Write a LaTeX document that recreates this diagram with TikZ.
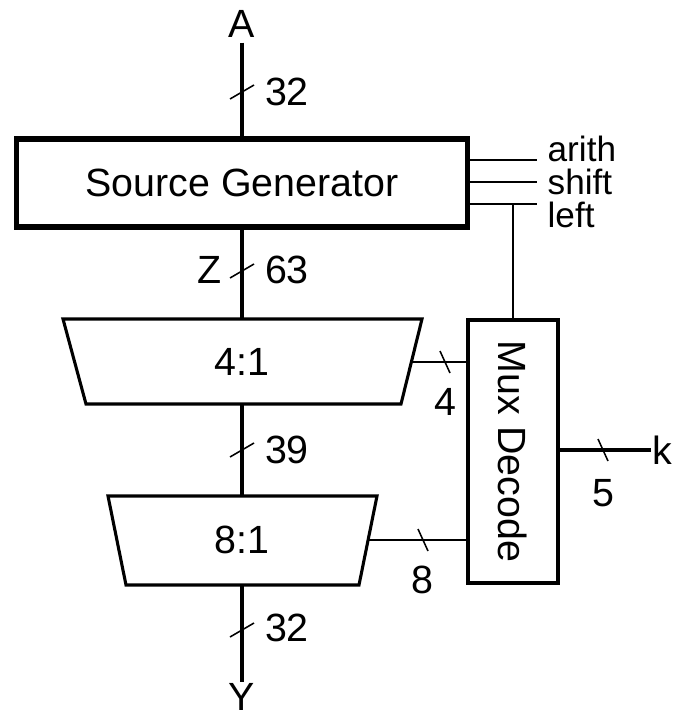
\documentclass[tikz,border=0pt]{standalone}
\usepackage{fontspec}
\setmainfont{Liberation Sans}
\usetikzlibrary{positioning}
\tikzset{
  bus/.style={line width=3.4pt},
  ctrl/.style={line width=1.3pt},
  tickmark/.style={line width=1.1pt},
  genbox/.style={draw, line width=3.6pt, minimum width=11.25cm, minimum height=2.2cm},
  decbox/.style={draw, line width=3pt, minimum width=2.25cm, minimum height=6.575cm},
  muxline/.style={line width=2.2pt, line join=miter},
  sig/.style={inner sep=1pt, font=\fontsize{25}{28}\selectfont}
}
\newcommand{\bustick}[1]{\draw[tickmark] (#1) +(-12,7) -- +(12,-7);}
\newcommand{\seltick}[1]{\draw[tickmark] (#1) +(-5,-11) -- +(5,11);}

\begin{document}
\begin{tikzpicture}[x=0.025cm, y=-0.025cm, every node/.style={font=\fontsize{28}{32}\selectfont}]
  \useasboundingbox (0,0) rectangle (677,716);
  % blocks
  \node[genbox] (src) at (242,183) {Source Generator};
  \node[decbox] (dec) at (513,451.5) {};
  \node[rotate=-90] (declbl) at (dec.center) {Mux Decode};
  % the two muxes
  \coordinate (m4tl) at (63,319);  \coordinate (m4tr) at (422,319);
  \coordinate (m4br) at (401,404); \coordinate (m4bl) at (86,404);
  \coordinate (m8tl) at (108,496); \coordinate (m8tr) at (377,496);
  \coordinate (m8br) at (359,585); \coordinate (m8bl) at (126,585);
  \draw[muxline] (m4tl) -- (m4tr) -- (m4br) -- (m4bl) -- cycle;
  \draw[muxline] (m8tl) -- (m8tr) -- (m8br) -- (m8bl) -- cycle;
  \node (mux4) at (242,362) {4:1};
  \node (mux8) at (242,540) {8:1};
  \coordinate (m4n) at (242,319); \coordinate (m4s) at (242,404);
  \coordinate (m8n) at (242,496); \coordinate (m8s) at (242,585);
  % datapath
  \node (A) at (242,24) {A};
  \node[inner sep=1pt] (Y) at (242,697) {Y};
  \draw[bus] (A) -- (src);
  \draw[bus] (src) -- (m4n);
  \draw[bus] (m4s) -- (m8n);
  \draw[bus] (m8s) -- (Y);
  \bustick{242,92}
  \bustick{242,271}
  \bustick{242,450}
  \bustick{242,630}
  \node (w1) at (287,92) {32};
  \node (z) at (210,270) {Z};
  \node (w2) at (287,270) {63};
  \node (w3) at (287,450) {39};
  \node (w4) at (287,628) {32};
  % control inputs
  \coordinate (arE) at (537,160);
  \coordinate (shE) at (537,182);
  \coordinate (lfE) at (537,204);
  \draw[ctrl] (arE -| src.east) -- (arE);
  \draw[ctrl] (shE -| src.east) -- (shE);
  \draw[ctrl] (lfE -| src.east) -- (lfE);
  \draw[ctrl] (lfE -| dec.north) -- (dec.north);
  \node[sig, anchor=base west] (arith) at (546,161) {arith};
  \node[sig, anchor=base west] (shift) at (546,194) {shift};
  \node[sig, anchor=base west] (left) at (546,227) {left};
  % selects
  \coordinate (s4) at (411,362);
  \coordinate (s8) at (368,540);
  \draw[ctrl] (s4) -- (s4 -| dec.west);
  \draw[ctrl] (s8) -- (s8 -| dec.west);
  \seltick{445,362}
  \seltick{423,540}
  \node (n4) at (445,402) {4};
  \node (n8) at (422,580) {8};
  % k input
  \node[sig, anchor=west, font=\fontsize{28}{32}\selectfont] (k) at (651,450) {k};
  \draw[bus] (dec.east |- k) -- (k.west);
  \seltick{603,450}
  \node (n5) at (603,493) {5};
\end{tikzpicture}
\end{document}
